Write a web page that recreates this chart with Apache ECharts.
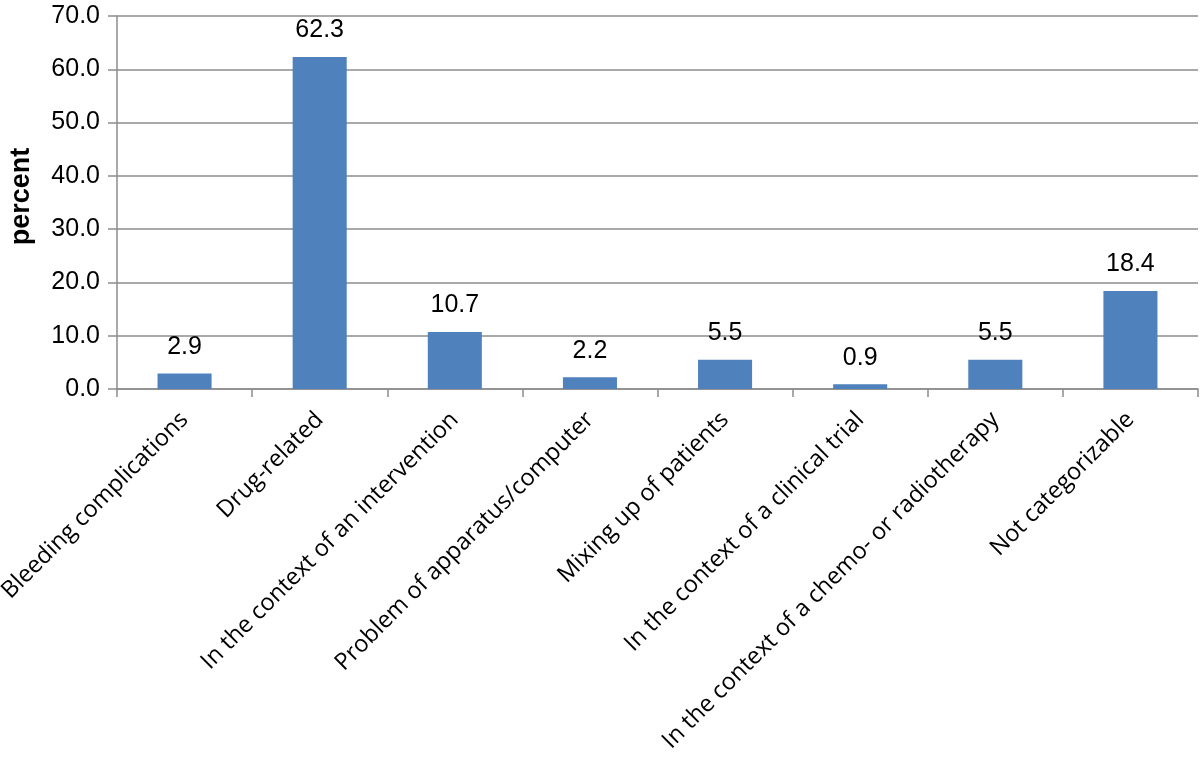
<!DOCTYPE html>
<html>
<head>
<meta charset="utf-8">
<script src="https://cdn.jsdelivr.net/npm/echarts@6/dist/echarts.min.js"></script>
<style>
  html, body { margin: 0; padding: 0; background: #fff; }
  #chart { width: 1200px; height: 758px; }
</style>
</head>
<body>
<div id="chart"></div>
<script>
const categories = [
  'Bleeding complications',
  'Drug-related',
  'In the context of an intervention',
  'Problem of apparatus/computer',
  'Mixing up of patients',
  'In the context of a clinical trial',
  'In the context of a chemo- or radiotherapy',
  'Not categorizable'
];
const percents = [2.9, 62.3, 10.7, 2.2, 5.5, 0.9, 5.5, 18.4];

const chart = echarts.init(document.getElementById('chart'));
chart.setOption({
  animation: false,
  grid: { left: 117, right: 2, top: 16, bottom: 369, outerBoundsMode: 'none' },
  xAxis: {
    type: 'category',
    data: categories,
    axisLine: { lineStyle: { color: '#8c8c8c', width: 1.5 } },
    axisTick: { show: true, length: 8, lineStyle: { color: '#8c8c8c', width: 1.5 } },
    axisLabel: {
      interval: 0,
      rotate: 45,
      margin: 27,
      color: '#000',
      fontFamily: 'Open Sans',
      fontSize: 23.5
    }
  },
  yAxis: {
    type: 'value',
    min: 0,
    max: 70,
    interval: 10,
    name: 'percent',
    nameLocation: 'middle',
    nameGap: 82,
    nameTextStyle: {
      fontFamily: 'Liberation Sans', fontWeight: 'bold', fontSize: 27, color: '#000',
      padding: [0, 0, 0, 12]
    },
    axisLine: { show: true, lineStyle: { color: '#8c8c8c', width: 1.5 } },
    axisTick: { show: true, length: 9, lineStyle: { color: '#8c8c8c', width: 1.5 } },
    splitLine: { lineStyle: { color: '#8c8c8c', width: 1.5 } },
    axisLabel: {
      margin: 17,
      color: '#000',
      fontFamily: 'Liberation Sans',
      fontSize: 25,
      formatter: v => v.toFixed(1)
    }
  },
  series: [{
    type: 'bar',
    data: percents,
    barWidth: '40%',
    itemStyle: { color: '#4f81bd' },
    label: {
      show: true,
      position: 'top',
      distance: 14,
      color: '#000',
      fontFamily: 'Liberation Sans',
      fontSize: 25,
      formatter: p => p.value.toFixed(1)
    }
  }]
});
</script>
</body>
</html>
